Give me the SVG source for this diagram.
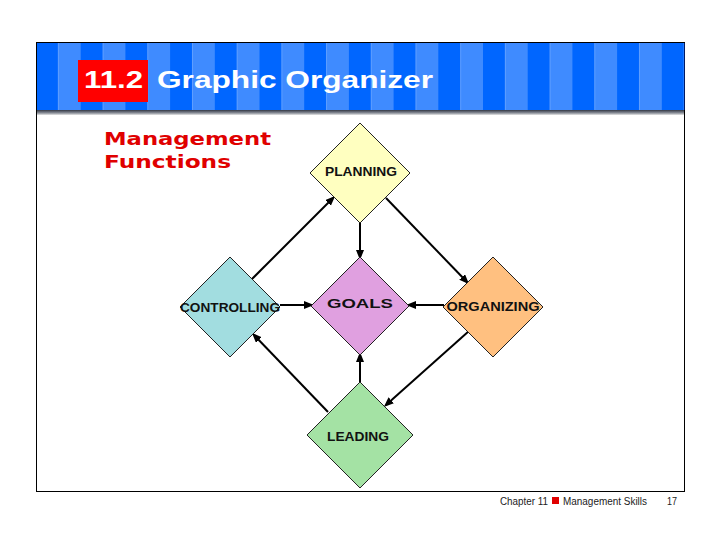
<svg xmlns="http://www.w3.org/2000/svg" width="720" height="540" viewBox="0 0 720 540">
<defs>
<pattern id="stripes" patternUnits="userSpaceOnUse" x="36" y="0" width="44.7" height="80">
<rect x="0" y="0" width="22.35" height="80" fill="#0066FF"/>
<rect x="22.35" y="0" width="22.35" height="80" fill="#3F8BFF"/>
</pattern>
<linearGradient id="shadow" x1="0" y1="0" x2="0" y2="1">
<stop offset="0" stop-color="#333844"/>
<stop offset="0.6" stop-color="#8a8f99"/>
<stop offset="1" stop-color="#e6e6e6"/>
</linearGradient>
<marker id="arr" markerUnits="userSpaceOnUse" markerWidth="11" markerHeight="9" refX="7" refY="4" orient="auto">
<path d="M0,0 L10,4 L0,8 z" fill="#000"/>
</marker>
<style>
.node { stroke: #222; stroke-width: 1; }
.lbl { font-family: "Liberation Sans", Arial, sans-serif; font-weight: bold; font-size: 13px; fill: #111; text-anchor: middle; }
.conn line { stroke: #000; stroke-width: 2; marker-end: url(#arr); }
.foot { font-family: "Liberation Sans", Arial, sans-serif; font-size: 10px; fill: #222; }
</style>
</defs>
<rect width="720" height="540" fill="#fff"/>
<!-- frame -->
<rect x="36.5" y="42.5" width="648" height="449" fill="#fff" stroke="#000" stroke-width="1"/>
<!-- header -->
<g id="header">
<rect x="37" y="43" width="647" height="67" fill="url(#stripes)"/>
<rect x="37" y="110" width="647" height="5" fill="url(#shadow)"/>
<line x1="684.5" y1="43" x2="684.5" y2="110" stroke="#001a66" stroke-width="1"/>
<rect x="78" y="60" width="70" height="42" fill="#FF0000"/>
<text x="84" y="88" font-family="Liberation Sans, Arial, sans-serif" font-weight="bold" font-size="23" fill="#fff" textLength="59" lengthAdjust="spacingAndGlyphs">11.2</text>
<text x="157" y="88" font-family="Liberation Sans, Arial, sans-serif" font-weight="bold" font-size="24" fill="#fff" textLength="276" lengthAdjust="spacingAndGlyphs">Graphic Organizer</text>
</g>
<g id="subtitle">
<text x="104" y="145" font-family="DejaVu Sans, sans-serif" font-weight="bold" font-size="18" fill="#E00000" textLength="167" lengthAdjust="spacingAndGlyphs">Management</text>
<text x="104" y="168" font-family="DejaVu Sans, sans-serif" font-weight="bold" font-size="18" fill="#E00000" textLength="127" lengthAdjust="spacingAndGlyphs">Functions</text>
</g>
<!-- connectors -->
<g id="connectors" class="conn">
<line x1="252" y1="279" x2="333" y2="198"/>
<line x1="386" y1="198" x2="467" y2="282"/>
<line x1="360" y1="223" x2="360" y2="257"/>
<line x1="280" y1="305" x2="311" y2="305"/>
<line x1="444" y1="305" x2="409" y2="305"/>
<line x1="360" y1="382" x2="360" y2="355"/>
<line x1="469" y1="331" x2="386" y2="405"/>
<line x1="328" y1="412" x2="254" y2="335"/>
</g>
<!-- nodes -->
<g id="planning">
<polygon class="node" points="360,123 410,173 360,223 310,173" fill="#FFFFC0"/>
<text class="lbl" x="361" y="176" textLength="72" lengthAdjust="spacingAndGlyphs">PLANNING</text>
</g>
<g id="controlling">
<polygon class="node" points="230,257 280,307 230,357 180,307" fill="#A2DDE0"/>
<text class="lbl" x="230" y="312" textLength="100" lengthAdjust="spacingAndGlyphs">CONTROLLING</text>
</g>
<g id="goals">
<polygon class="node" points="360,257 409,306 360,355 311,306" fill="#E0A0E0"/>
<text class="lbl" x="360" y="308" font-size="16" textLength="66" lengthAdjust="spacingAndGlyphs">GOALS</text>
</g>
<g id="organizing">
<polygon class="node" points="493,257 543,307 493,357 443,307" fill="#FFC080"/>
<text class="lbl" x="493" y="311" textLength="93" lengthAdjust="spacingAndGlyphs">ORGANIZING</text>
</g>
<g id="leading">
<polygon class="node" points="360,382 413,435 360,488 307,435" fill="#A4E2A4"/>
<text class="lbl" x="358" y="441" textLength="62" lengthAdjust="spacingAndGlyphs">LEADING</text>
</g>
<!-- footer -->
<g id="footer">
<text class="foot" x="500" y="505" textLength="48" lengthAdjust="spacingAndGlyphs">Chapter 11</text>
<rect x="552" y="497" width="7" height="7" fill="#E00000"/>
<text class="foot" x="563" y="505" textLength="84" lengthAdjust="spacingAndGlyphs">Management Skills</text>
<text class="foot" x="667" y="505" textLength="10" lengthAdjust="spacingAndGlyphs">17</text>
</g>
</svg>
